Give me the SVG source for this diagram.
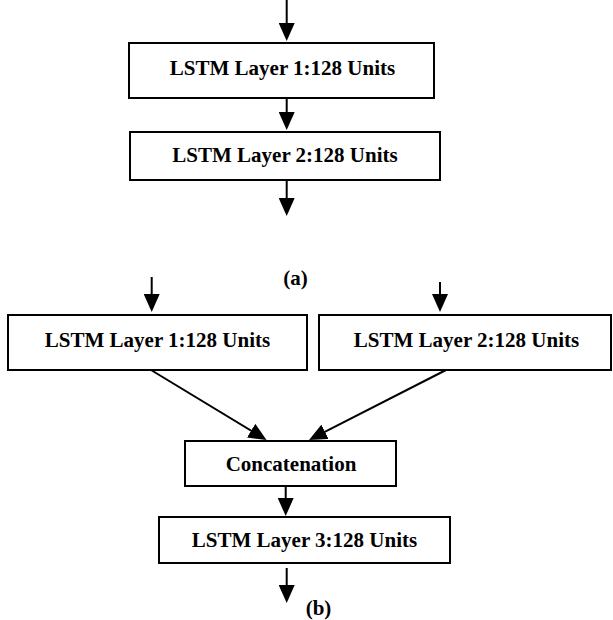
<svg xmlns="http://www.w3.org/2000/svg" width="613" height="620" viewBox="0 0 613 620">
<style>
.box{fill:#fff;stroke:#000;stroke-width:2}
.lbl{font-family:"Liberation Serif","Times New Roman",serif;font-weight:bold;font-size:21px;fill:#000;text-anchor:middle}
.edge{stroke:#000;stroke-width:2;fill:none;marker-end:url(#ah)}
</style>
<defs>
<marker id="ah" viewBox="0 0 18 16" refX="8" refY="8" markerWidth="18" markerHeight="16" markerUnits="userSpaceOnUse" orient="auto">
<path d="M0,0 L18,8 L0,16 z" fill="#000"/>
</marker>
</defs>
<rect width="613" height="620" fill="#fff"/>
<g id="a-layer1"><rect class="box" x="129" y="43" width="305" height="55"/><text class="lbl" x="282.5" y="74.5">LSTM Layer 1:128 Units</text></g>
<g id="a-layer2"><rect class="box" x="130" y="132" width="310" height="48"/><text class="lbl" x="285" y="162">LSTM Layer 2:128 Units</text></g>
<g id="b-layer1"><rect class="box" x="8" y="315" width="299" height="55"/><text class="lbl" x="157.5" y="347">LSTM Layer 1:128 Units</text></g>
<g id="b-layer2"><rect class="box" x="319" y="315" width="292" height="55"/><text class="lbl" x="466.5" y="347">LSTM Layer 2:128 Units</text></g>
<g id="concat"><rect class="box" x="185" y="441" width="211" height="45"/><text class="lbl" x="291" y="470.5">Concatenation</text></g>
<g id="b-layer3"><rect class="box" x="159" y="517" width="291" height="46"/><text class="lbl" x="304.5" y="547">LSTM Layer 3:128 Units</text></g>
<g id="caption-a"><text class="lbl" x="295.5" y="285">(a)</text></g>
<g id="caption-b"><text class="lbl" x="318.5" y="615">(b)</text></g>
<g id="connectors">
<line class="edge" x1="286.7" y1="0" x2="286.7" y2="31"/>
<line class="edge" x1="286.7" y1="99" x2="286.7" y2="120"/>
<line class="edge" x1="286.7" y1="181" x2="286.7" y2="206"/>
<line class="edge" x1="151.7" y1="277" x2="151.7" y2="302"/>
<line class="edge" x1="440" y1="282" x2="440" y2="302"/>
<line class="edge" x1="151" y1="370" x2="258" y2="434.8"/>
<line class="edge" x1="446" y1="370" x2="317.9" y2="435.4"/>
<line class="edge" x1="285.7" y1="487" x2="285.7" y2="506"/>
<line class="edge" x1="286.7" y1="568" x2="286.7" y2="593"/>
</g>
</svg>
